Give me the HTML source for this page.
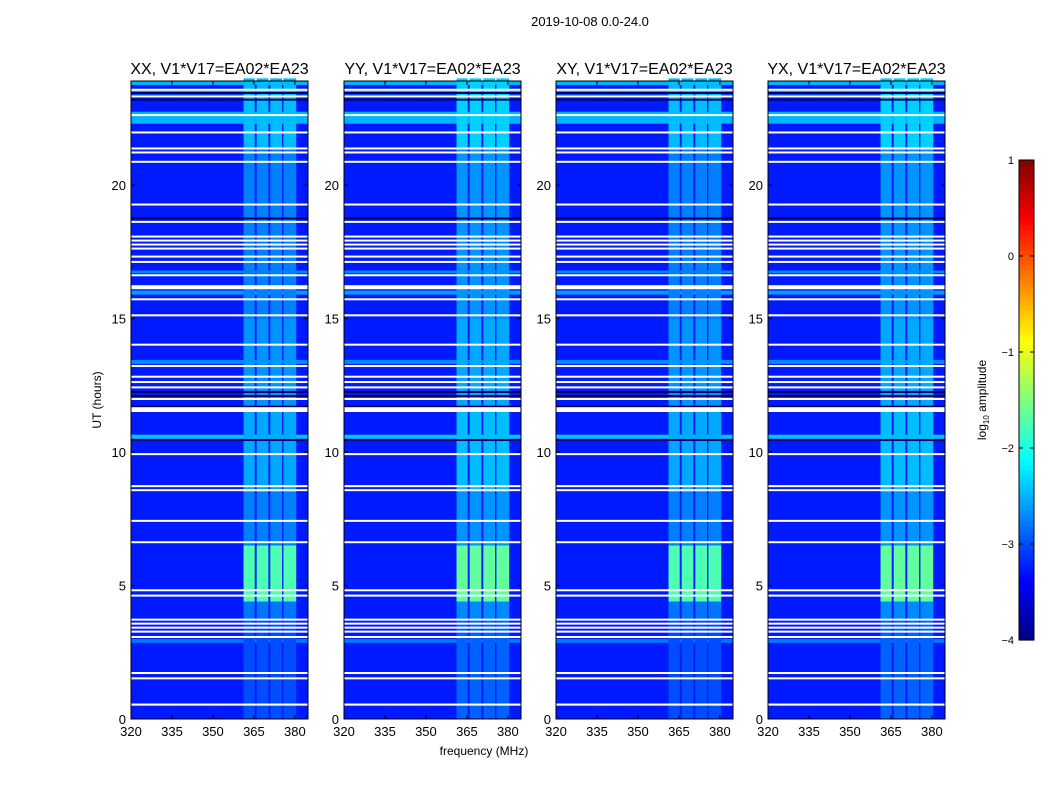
<!DOCTYPE html>
<html><head><meta charset="utf-8"><style>
body{margin:0;background:#fff;}
svg text{font-family:"Liberation Sans",sans-serif;fill:#000;}
</style></head><body>
<svg id="fig" width="1050" height="800">
<rect width="1050" height="800" fill="#fff"/>
<text x="590" y="26" font-size="13" text-anchor="middle">2019-10-08 0.0-24.0</text>
<text x="484" y="755" font-size="12" text-anchor="middle">frequency (MHz)</text>
<text transform="translate(101,400) rotate(-90)" font-size="12" text-anchor="middle">UT (hours)</text>
<g id="panels"></g>
<g id="cbar"></g>
</svg>
<script>
const panelTitles=["XX, V1*V17=EA02*EA23","YY, V1*V17=EA02*EA23","XY, V1*V17=EA02*EA23","YX, V1*V17=EA02*EA23"];
const freqTicks=[320,335,350,365,380];
const timeTicks=[0,5,10,15,20];
const cbarTicks=[1,0,-1,-2,-3,-4];
const bandFreqs=[[361.2,365.3],[366,370.3],[371,375.3],[375.8,380.5]];
const bandSegTimes=[[0,3.7],[3.7,4.4],[4.4,6.5],[6.5,8.5],[8.5,11.7],[11.7,15],[15,21.4],[21.4,24]];
const bandLevels=[-3.0,-2.8,-1.75,-2.75,-2.55,-2.65,-2.75,-2.45];
const bgLevel=-3.25;
const rowTimes=[[22.3,22.75],[23.4,23.55],[10.5,10.65],[15.9,16.05],[16.7,16.8],[13.3,13.45],[23.75,23.9],[2.85,3.0]];
const rowLevels=[-2.5,-2.6,-2.4,-2.6,-2.7,-2.7,-2.5,-2.8];
const flagStart=[0.5,1.5,1.7,3.05,3.25,3.4,3.55,3.7,4.6,4.8,6.6,7.4,8.55,8.7,9.9,11.5,11.95,12.4,12.6,12.8,13.2,14.0,15.1,15.7,16.1,16.6,17.1,17.3,17.6,17.75,17.9,18.05,18.6,19.25,20.85,21.2,21.35,21.95,22.6,23.3,23.55];
const flagWidth=[0.08,0.06,0.06,0.06,0.06,0.06,0.06,0.06,0.06,0.06,0.06,0.06,0.06,0.06,0.06,0.18,0.08,0.06,0.06,0.06,0.06,0.06,0.06,0.06,0.15,0.06,0.06,0.06,0.06,0.06,0.06,0.06,0.06,0.06,0.06,0.06,0.06,0.06,0.06,0.06,0.06];
const darkTimes=[10.45,12.1,12.25,18.75,11.7,23.2,23.45];

const NS="http://www.w3.org/2000/svg";
function jet(v){let x=(v+4)/5;x=Math.max(0,Math.min(1,x));
 const r=Math.max(0,Math.min(1,1.5-Math.abs(4*x-3))),g=Math.max(0,Math.min(1,1.5-Math.abs(4*x-2))),b=Math.max(0,Math.min(1,1.5-Math.abs(4*x-1)));
 return `rgb(${Math.round(r*255)},${Math.round(g*255)},${Math.round(b*255)})`;}
function mk(tag,attrs,parent){const e=document.createElementNS(NS,tag);for(const k in attrs)e.setAttribute(k,attrs[k]);parent.appendChild(e);return e;}
const panelX=[131,344,556,768],PW=177,PT=81,PB=719;
const fmin=320,fmax=384.8,tmin=0,tmax=23.9;
const root=document.getElementById('panels');
panelX.forEach((px,pi)=>{
 const xs=f=>px+(f-fmin)/(fmax-fmin)*PW;
 const ys=t=>PB-(t-tmin)/(tmax-tmin)*(PB-PT);
 const g=mk('g',{},root);
 
 
 const bg=mk('rect',{x:px,y:PT,width:PW,height:PB-PT,fill:jet(bgLevel)},g);
 
 
 rowTimes.forEach((r,i)=>{const e=mk('rect',{x:px,y:ys(r[1]),width:PW,height:ys(r[0])-ys(r[1]),fill:jet(rowLevels[i])},g);
  
  });
 bandFreqs.forEach(b=>{bandSegTimes.forEach((s,i)=>{
  const e=mk('rect',{x:xs(b[0]),y:ys(s[1]),width:xs(b[1])-xs(b[0]),height:ys(s[0])-ys(s[1]),fill:jet(bandLevels[i]+(pi%2?0.1:0))},g);
  
  });});
 darkTimes.forEach(t=>{const e=mk('rect',{x:px,y:ys(t)-1,width:PW,height:2,fill:'#000060'},g);
  
  });
 flagStart.forEach((t,i)=>{const h=Math.max(2,ys(t)-ys(t+flagWidth[i]));const e=mk('rect',{x:px,y:ys(t+flagWidth[i]),width:PW,height:h,fill:'#fff'},g);
  
  });
 const fr=mk('rect',{x:px,y:PT,width:PW,height:PB-PT,fill:'none',stroke:'#000','stroke-width':1},g);
 
 
 const tt=mk('text',{x:px+PW/2,y:PT-7,'font-size':16,'text-anchor':'middle'},g);tt.textContent=panelTitles[pi];
 
 
 freqTicks.forEach(f=>{const x=xs(f);mk('line',{x1:x,x2:x,y1:PB,y2:PB-4,stroke:'#000'},g);mk('line',{x1:x,x2:x,y1:PT,y2:PT+4,stroke:'#000'},g);
  const t=mk('text',{x:x,y:PB+17,'font-size':13,'text-anchor':'middle'},g);t.textContent=f;
  
  });
 timeTicks.forEach(v=>{const y=ys(v);mk('line',{x1:px,x2:px+4,y1:y,y2:y,stroke:'#000'},g);mk('line',{x1:px+PW,x2:px+PW-4,y1:y,y2:y,stroke:'#000'},g);
  const t=mk('text',{x:px-5,y:y+5,'font-size':13,'text-anchor':'end'},g);t.textContent=v;
  
  });
});
const cb=document.getElementById('cbar');


const CX=1019,CW=15,CT=160,CB=640;
const cy=v=>CB-(v+4)/5*(CB-CT);
for(let i=0;i<96;i++){const v=-4+i*5/96;mk('rect',{x:CX,y:cy(v+5/96),width:CW,height:(CB-CT)/96+0.6,fill:jet(v+2.5/96)},cb);}
mk('rect',{x:CX,y:CT,width:CW,height:CB-CT,fill:'none',stroke:'#000'},cb);
cbarTicks.forEach(v=>{const y=cy(v);mk('line',{x1:CX,x2:CX+4,y1:y,y2:y,stroke:'#000'},cb);mk('line',{x1:CX+CW,x2:CX+CW-4,y1:y,y2:y,stroke:'#000'},cb);
 const t=mk('text',{x:CX-5,y:y+4,'font-size':11,'text-anchor':'end'},cb);t.textContent=(v<0?'\u2212'+(-v):v);
 
 });
const cl=mk('text',{transform:'translate(986,400) rotate(-90)','font-size':12,'text-anchor':'middle'},cb);
cl.innerHTML='log<tspan font-size="8" dy="3">10</tspan><tspan dy="-3"> amplitude</tspan>';


</script>
</body></html>
